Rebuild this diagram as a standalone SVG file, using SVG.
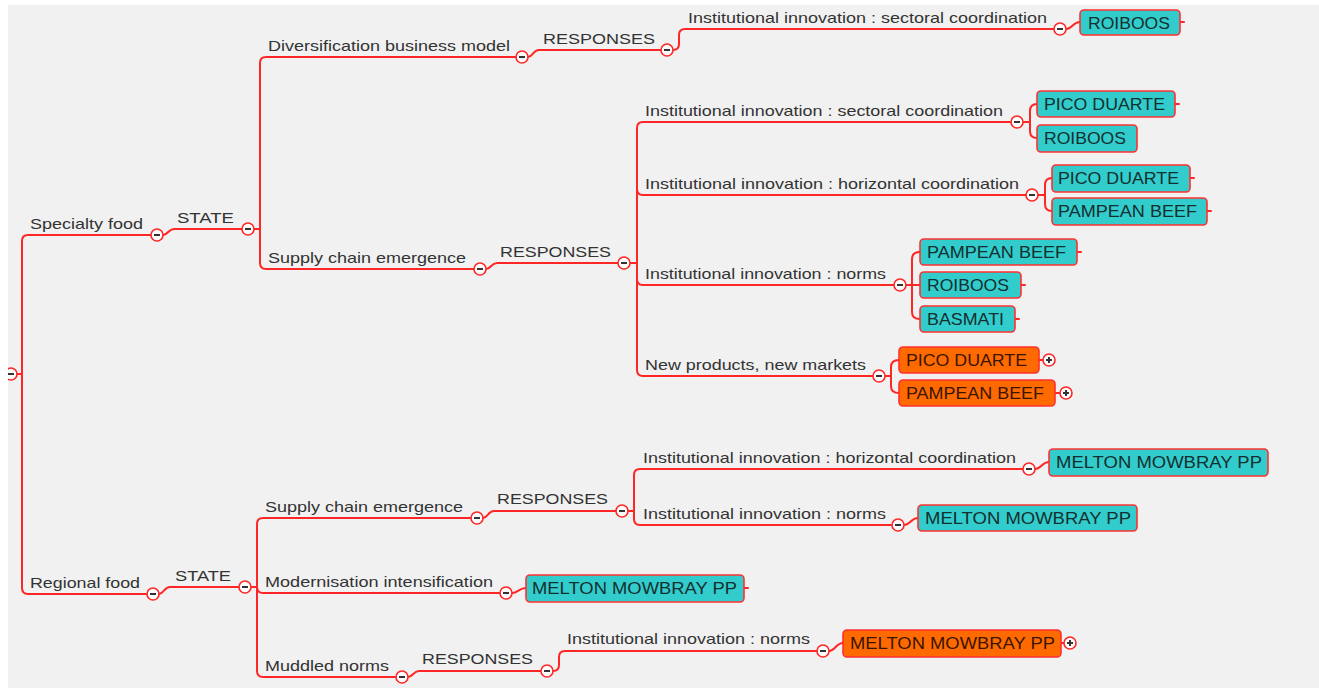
<svg xmlns="http://www.w3.org/2000/svg" xmlns:xlink="http://www.w3.org/1999/xlink" width="1319" height="688" viewBox="0 0 1319 688">
  <style>
    .ln { fill: none; stroke: #ff2626; stroke-width: 2; stroke-linecap: round; stroke-linejoin: round; }
    .halo { fill: none; stroke: #ff8080; stroke-width: 4; opacity: 0.35; }
    .lbl { font-family: "Liberation Sans", Arial, sans-serif; font-size: 15px; fill: #333333; }
    .btxt { font-family: "Liberation Sans", Arial, sans-serif; font-size: 17px; fill: #12302f; }
    .otxt { font-family: "Liberation Sans", Arial, sans-serif; font-size: 17px; fill: #3a1500; }
    .teal { fill: #33cccc; stroke: #ff3030; stroke-width: 1.6; }
    .orng { fill: #ff6a00; stroke: #ff3030; stroke-width: 1.6; }
  </style>
  <defs>
    <!-- collapse / expand toggles -->
    <g id="minus">
      <circle r="6" fill="#ffffff" stroke="#ff2626" stroke-width="1.6"/>
      <rect x="-3" y="-1" width="6" height="2" fill="#333333"/>
    </g>
    <g id="plus">
      <circle r="6" fill="#ffffff" stroke="#ff2626" stroke-width="1.6"/>
      <rect x="-3" y="-1" width="6" height="2" fill="#333333"/>
      <rect x="-1" y="-3" width="2" height="6" fill="#333333"/>
    </g>
  </defs>

  <!-- canvas -->
  <rect x="0" y="0" width="1319" height="688" fill="#ffffff"/>
  <rect x="8" y="5" width="1311" height="683" fill="#f1f1f1"/>

  <!-- connectors -->
  <g id="connectors">
    <g class="ln">
      <!-- root trunk -->
      <path d="M16,374 H22"/>
      <path d="M151,235 H28 Q22,235 22,241 V588 Q22,594 28,594 H147"/>
      <!-- specialty food -> STATE -->
      <path d="M163,235 C168,235 168,229 174,229 H242"/>
      <path d="M254,229 H260"/>
      <path d="M516,57 H266 Q260,57 260,63 V263 Q260,269 266,269 H474"/>
      <!-- diversification -> RESPONSES -> sectoral coordination -> ROIBOOS -->
      <path d="M528,57 C533,57 533,50 539,50 H661"/>
      <path d="M673,50 Q679,50 679,44 V35 Q679,29 685,29 H1054"/>
      <path d="M1066,29 C1072,29 1073,22 1080,22"/>
      <path d="M1180,22 H1184"/>
      <!-- supply chain emergence -> RESPONSES -->
      <path d="M486,269 C491,269 491,263 497,263 H618"/>
      <path d="M630,263 H637"/>
      <path d="M1011,122 H643 Q637,122 637,128 V370 Q637,376 643,376 H873"/>
      <path d="M637,189 Q637,195 643,195 H1026"/>
      <path d="M637,279 Q637,285 643,285 H894"/>
      <!-- sectoral coordination fork -->
      <path d="M1023,122 H1030"/>
      <path d="M1037,104 Q1030,104 1030,111 V131 Q1030,138 1037,138"/>
      <path d="M1175,104 H1179"/>
      <!-- horizontal coordination fork -->
      <path d="M1038,195 H1045"/>
      <path d="M1052,178 Q1045,178 1045,185 V204 Q1045,211 1052,211"/>
      <path d="M1190,178 H1194"/>
      <path d="M1207,211 H1211"/>
      <!-- norms fork -->
      <path d="M906,285 H920"/>
      <path d="M920,252 Q912,252 912,259 V312 Q912,319 920,319"/>
      <path d="M1077,252 H1081"/>
      <path d="M1021,285 H1025"/>
      <path d="M1015,319 H1019"/>
      <!-- new products fork -->
      <path d="M885,376 H891"/>
      <path d="M899,360 Q891,360 891,367 V386 Q891,393 899,393"/>
      <path d="M1039,360 H1043"/>
      <path d="M1055,393 H1060"/>

      <!-- regional food -> STATE -->
      <path d="M159,594 C164,594 164,587 170,587 H239"/>
      <path d="M251,587 H257"/>
      <path d="M471,518 H263 Q257,518 257,524 V671 Q257,677 263,677 H396"/>
      <path d="M257,587 Q257,593 263,593 H500"/>
      <!-- supply chain emergence -> RESPONSES -->
      <path d="M483,518 C488,518 488,511 494,511 H616"/>
      <path d="M628,511 H634"/>
      <path d="M1023,469 H640 Q634,469 634,475 V519 Q634,525 640,525 H892"/>
      <path d="M1035,469 C1041,469 1042,462 1049,462"/>
      <path d="M904,525 C910,525 911,518 918,518"/>
      <!-- modernisation -> box -->
      <path d="M512,593 C518,593 519,588 526,588"/>
      <path d="M744,588 H748"/>
      <!-- muddled norms -> RESPONSES -> norms -> box -->
      <path d="M408,677 C413,677 413,671 419,671 H541"/>
      <path d="M553,671 Q559,671 559,665 V657 Q559,651 565,651 H817"/>
      <path d="M829,651 C835,651 836,643 843,643"/>
      <path d="M1061,643 H1064"/>
    </g>
  </g>

  <!-- root -->
  <g id="root">
    <use xlink:href="#minus" x="11" y="374"/>
  </g>

  <!-- Specialty food branch -->
  <g id="specialty-food">
    <text class="lbl" x="30" y="229" textLength="113" lengthAdjust="spacingAndGlyphs">Specialty food</text>
    <use xlink:href="#minus" x="157" y="235"/>
  </g>
  <g id="specialty-state">
    <text class="lbl" x="177" y="223" textLength="57" lengthAdjust="spacingAndGlyphs">STATE</text>
    <use xlink:href="#minus" x="248" y="229"/>
  </g>
  <g id="diversification">
    <text class="lbl" x="268" y="51" textLength="242" lengthAdjust="spacingAndGlyphs">Diversification business model</text>
    <use xlink:href="#minus" x="522" y="57"/>
  </g>
  <g id="diversification-responses">
    <text class="lbl" x="543" y="44" textLength="112" lengthAdjust="spacingAndGlyphs">RESPONSES</text>
    <use xlink:href="#minus" x="667" y="50"/>
  </g>
  <g id="div-sectoral">
    <text class="lbl" x="688" y="23" textLength="359" lengthAdjust="spacingAndGlyphs">Institutional innovation : sectoral coordination</text>
    <use xlink:href="#minus" x="1060" y="29"/>
  </g>
  <g id="div-sectoral-roiboos">
    <rect class="teal" x="1080" y="10" width="100" height="25" rx="4"/>
    <text class="btxt" x="1088" y="29" textLength="82" lengthAdjust="spacingAndGlyphs">ROIBOOS</text>
  </g>

  <g id="specialty-supply">
    <text class="lbl" x="268" y="263" textLength="198" lengthAdjust="spacingAndGlyphs">Supply chain emergence</text>
    <use xlink:href="#minus" x="480" y="269"/>
  </g>
  <g id="specialty-supply-responses">
    <text class="lbl" x="500" y="257" textLength="111" lengthAdjust="spacingAndGlyphs">RESPONSES</text>
    <use xlink:href="#minus" x="624" y="263"/>
  </g>
  <g id="sup-sectoral">
    <text class="lbl" x="645" y="116" textLength="358" lengthAdjust="spacingAndGlyphs">Institutional innovation : sectoral coordination</text>
    <use xlink:href="#minus" x="1017" y="122"/>
  </g>
  <g id="sup-sectoral-pico">
    <rect class="teal" x="1037" y="91" width="138" height="26" rx="4"/>
    <text class="btxt" x="1044" y="110" textLength="121" lengthAdjust="spacingAndGlyphs">PICO DUARTE</text>
  </g>
  <g id="sup-sectoral-roiboos">
    <rect class="teal" x="1037" y="125" width="100" height="27" rx="4"/>
    <text class="btxt" x="1044" y="144" textLength="82" lengthAdjust="spacingAndGlyphs">ROIBOOS</text>
  </g>
  <g id="sup-horizontal">
    <text class="lbl" x="645" y="189" textLength="374" lengthAdjust="spacingAndGlyphs">Institutional innovation : horizontal coordination</text>
    <use xlink:href="#minus" x="1032" y="195"/>
  </g>
  <g id="sup-horizontal-pico">
    <rect class="teal" x="1052" y="165" width="138" height="27" rx="4"/>
    <text class="btxt" x="1058" y="184" textLength="121" lengthAdjust="spacingAndGlyphs">PICO DUARTE</text>
  </g>
  <g id="sup-horizontal-pampean">
    <rect class="teal" x="1052" y="198" width="155" height="27" rx="4"/>
    <text class="btxt" x="1058" y="217" textLength="139" lengthAdjust="spacingAndGlyphs">PAMPEAN BEEF</text>
  </g>
  <g id="sup-norms">
    <text class="lbl" x="645" y="279" textLength="241" lengthAdjust="spacingAndGlyphs">Institutional innovation : norms</text>
    <use xlink:href="#minus" x="900" y="285"/>
  </g>
  <g id="sup-norms-pampean">
    <rect class="teal" x="920" y="239" width="157" height="26" rx="4"/>
    <text class="btxt" x="927" y="258" textLength="139" lengthAdjust="spacingAndGlyphs">PAMPEAN BEEF</text>
  </g>
  <g id="sup-norms-roiboos">
    <rect class="teal" x="920" y="272" width="101" height="26" rx="4"/>
    <text class="btxt" x="927" y="291" textLength="82" lengthAdjust="spacingAndGlyphs">ROIBOOS</text>
  </g>
  <g id="sup-norms-basmati">
    <rect class="teal" x="920" y="306" width="95" height="26" rx="4"/>
    <text class="btxt" x="927" y="325" textLength="77" lengthAdjust="spacingAndGlyphs">BASMATI</text>
  </g>
  <g id="sup-newproducts">
    <text class="lbl" x="645" y="370" textLength="221" lengthAdjust="spacingAndGlyphs">New products, new markets</text>
    <use xlink:href="#minus" x="879" y="376"/>
  </g>
  <g id="sup-newproducts-pico">
    <rect class="orng" x="899" y="347" width="140" height="26" rx="4"/>
    <text class="otxt" x="906" y="366" textLength="121" lengthAdjust="spacingAndGlyphs">PICO DUARTE</text>
    <use xlink:href="#plus" x="1049" y="360"/>
  </g>
  <g id="sup-newproducts-pampean">
    <rect class="orng" x="899" y="380" width="156" height="26" rx="4"/>
    <text class="otxt" x="906" y="399" textLength="138" lengthAdjust="spacingAndGlyphs">PAMPEAN BEEF</text>
    <use xlink:href="#plus" x="1066" y="393"/>
  </g>

  <!-- Regional food branch -->
  <g id="regional-food">
    <text class="lbl" x="30" y="588" textLength="110" lengthAdjust="spacingAndGlyphs">Regional food</text>
    <use xlink:href="#minus" x="153" y="594"/>
  </g>
  <g id="regional-state">
    <text class="lbl" x="175" y="581" textLength="56" lengthAdjust="spacingAndGlyphs">STATE</text>
    <use xlink:href="#minus" x="245" y="587"/>
  </g>
  <g id="regional-supply">
    <text class="lbl" x="265" y="512" textLength="198" lengthAdjust="spacingAndGlyphs">Supply chain emergence</text>
    <use xlink:href="#minus" x="477" y="518"/>
  </g>
  <g id="regional-supply-responses">
    <text class="lbl" x="497" y="504" textLength="111" lengthAdjust="spacingAndGlyphs">RESPONSES</text>
    <use xlink:href="#minus" x="622" y="511"/>
  </g>
  <g id="reg-horizontal">
    <text class="lbl" x="643" y="463" textLength="373" lengthAdjust="spacingAndGlyphs">Institutional innovation : horizontal coordination</text>
    <use xlink:href="#minus" x="1029" y="469"/>
  </g>
  <g id="reg-horizontal-melton">
    <rect class="teal" x="1049" y="449" width="219" height="27" rx="4"/>
    <text class="btxt" x="1056" y="468" textLength="206" lengthAdjust="spacingAndGlyphs">MELTON MOWBRAY PP</text>
  </g>
  <g id="reg-norms">
    <text class="lbl" x="643" y="519" textLength="243" lengthAdjust="spacingAndGlyphs">Institutional innovation : norms</text>
    <use xlink:href="#minus" x="898" y="525"/>
  </g>
  <g id="reg-norms-melton">
    <rect class="teal" x="918" y="505" width="219" height="26" rx="4"/>
    <text class="btxt" x="925" y="524" textLength="206" lengthAdjust="spacingAndGlyphs">MELTON MOWBRAY PP</text>
  </g>
  <g id="regional-modernisation">
    <text class="lbl" x="265" y="587" textLength="228" lengthAdjust="spacingAndGlyphs">Modernisation intensification</text>
    <use xlink:href="#minus" x="506" y="593"/>
  </g>
  <g id="modernisation-melton">
    <rect class="teal" x="526" y="575" width="218" height="27" rx="4"/>
    <text class="btxt" x="532" y="594" textLength="205" lengthAdjust="spacingAndGlyphs">MELTON MOWBRAY PP</text>
  </g>
  <g id="regional-muddled">
    <text class="lbl" x="265" y="671" textLength="124" lengthAdjust="spacingAndGlyphs">Muddled norms</text>
    <use xlink:href="#minus" x="402" y="677"/>
  </g>
  <g id="muddled-responses">
    <text class="lbl" x="422" y="664" textLength="111" lengthAdjust="spacingAndGlyphs">RESPONSES</text>
    <use xlink:href="#minus" x="547" y="671"/>
  </g>
  <g id="muddled-norms">
    <text class="lbl" x="567" y="644" textLength="243" lengthAdjust="spacingAndGlyphs">Institutional innovation : norms</text>
    <use xlink:href="#minus" x="823" y="651"/>
  </g>
  <g id="muddled-norms-melton">
    <rect class="orng" x="843" y="630" width="218" height="27" rx="4"/>
    <text class="otxt" x="850" y="649" textLength="205" lengthAdjust="spacingAndGlyphs">MELTON MOWBRAY PP</text>
    <use xlink:href="#plus" x="1070" y="643"/>
  </g>

  <!-- page margin over the root toggle -->
  <rect x="0" y="0" width="8" height="688" fill="#ffffff"/>
</svg>
